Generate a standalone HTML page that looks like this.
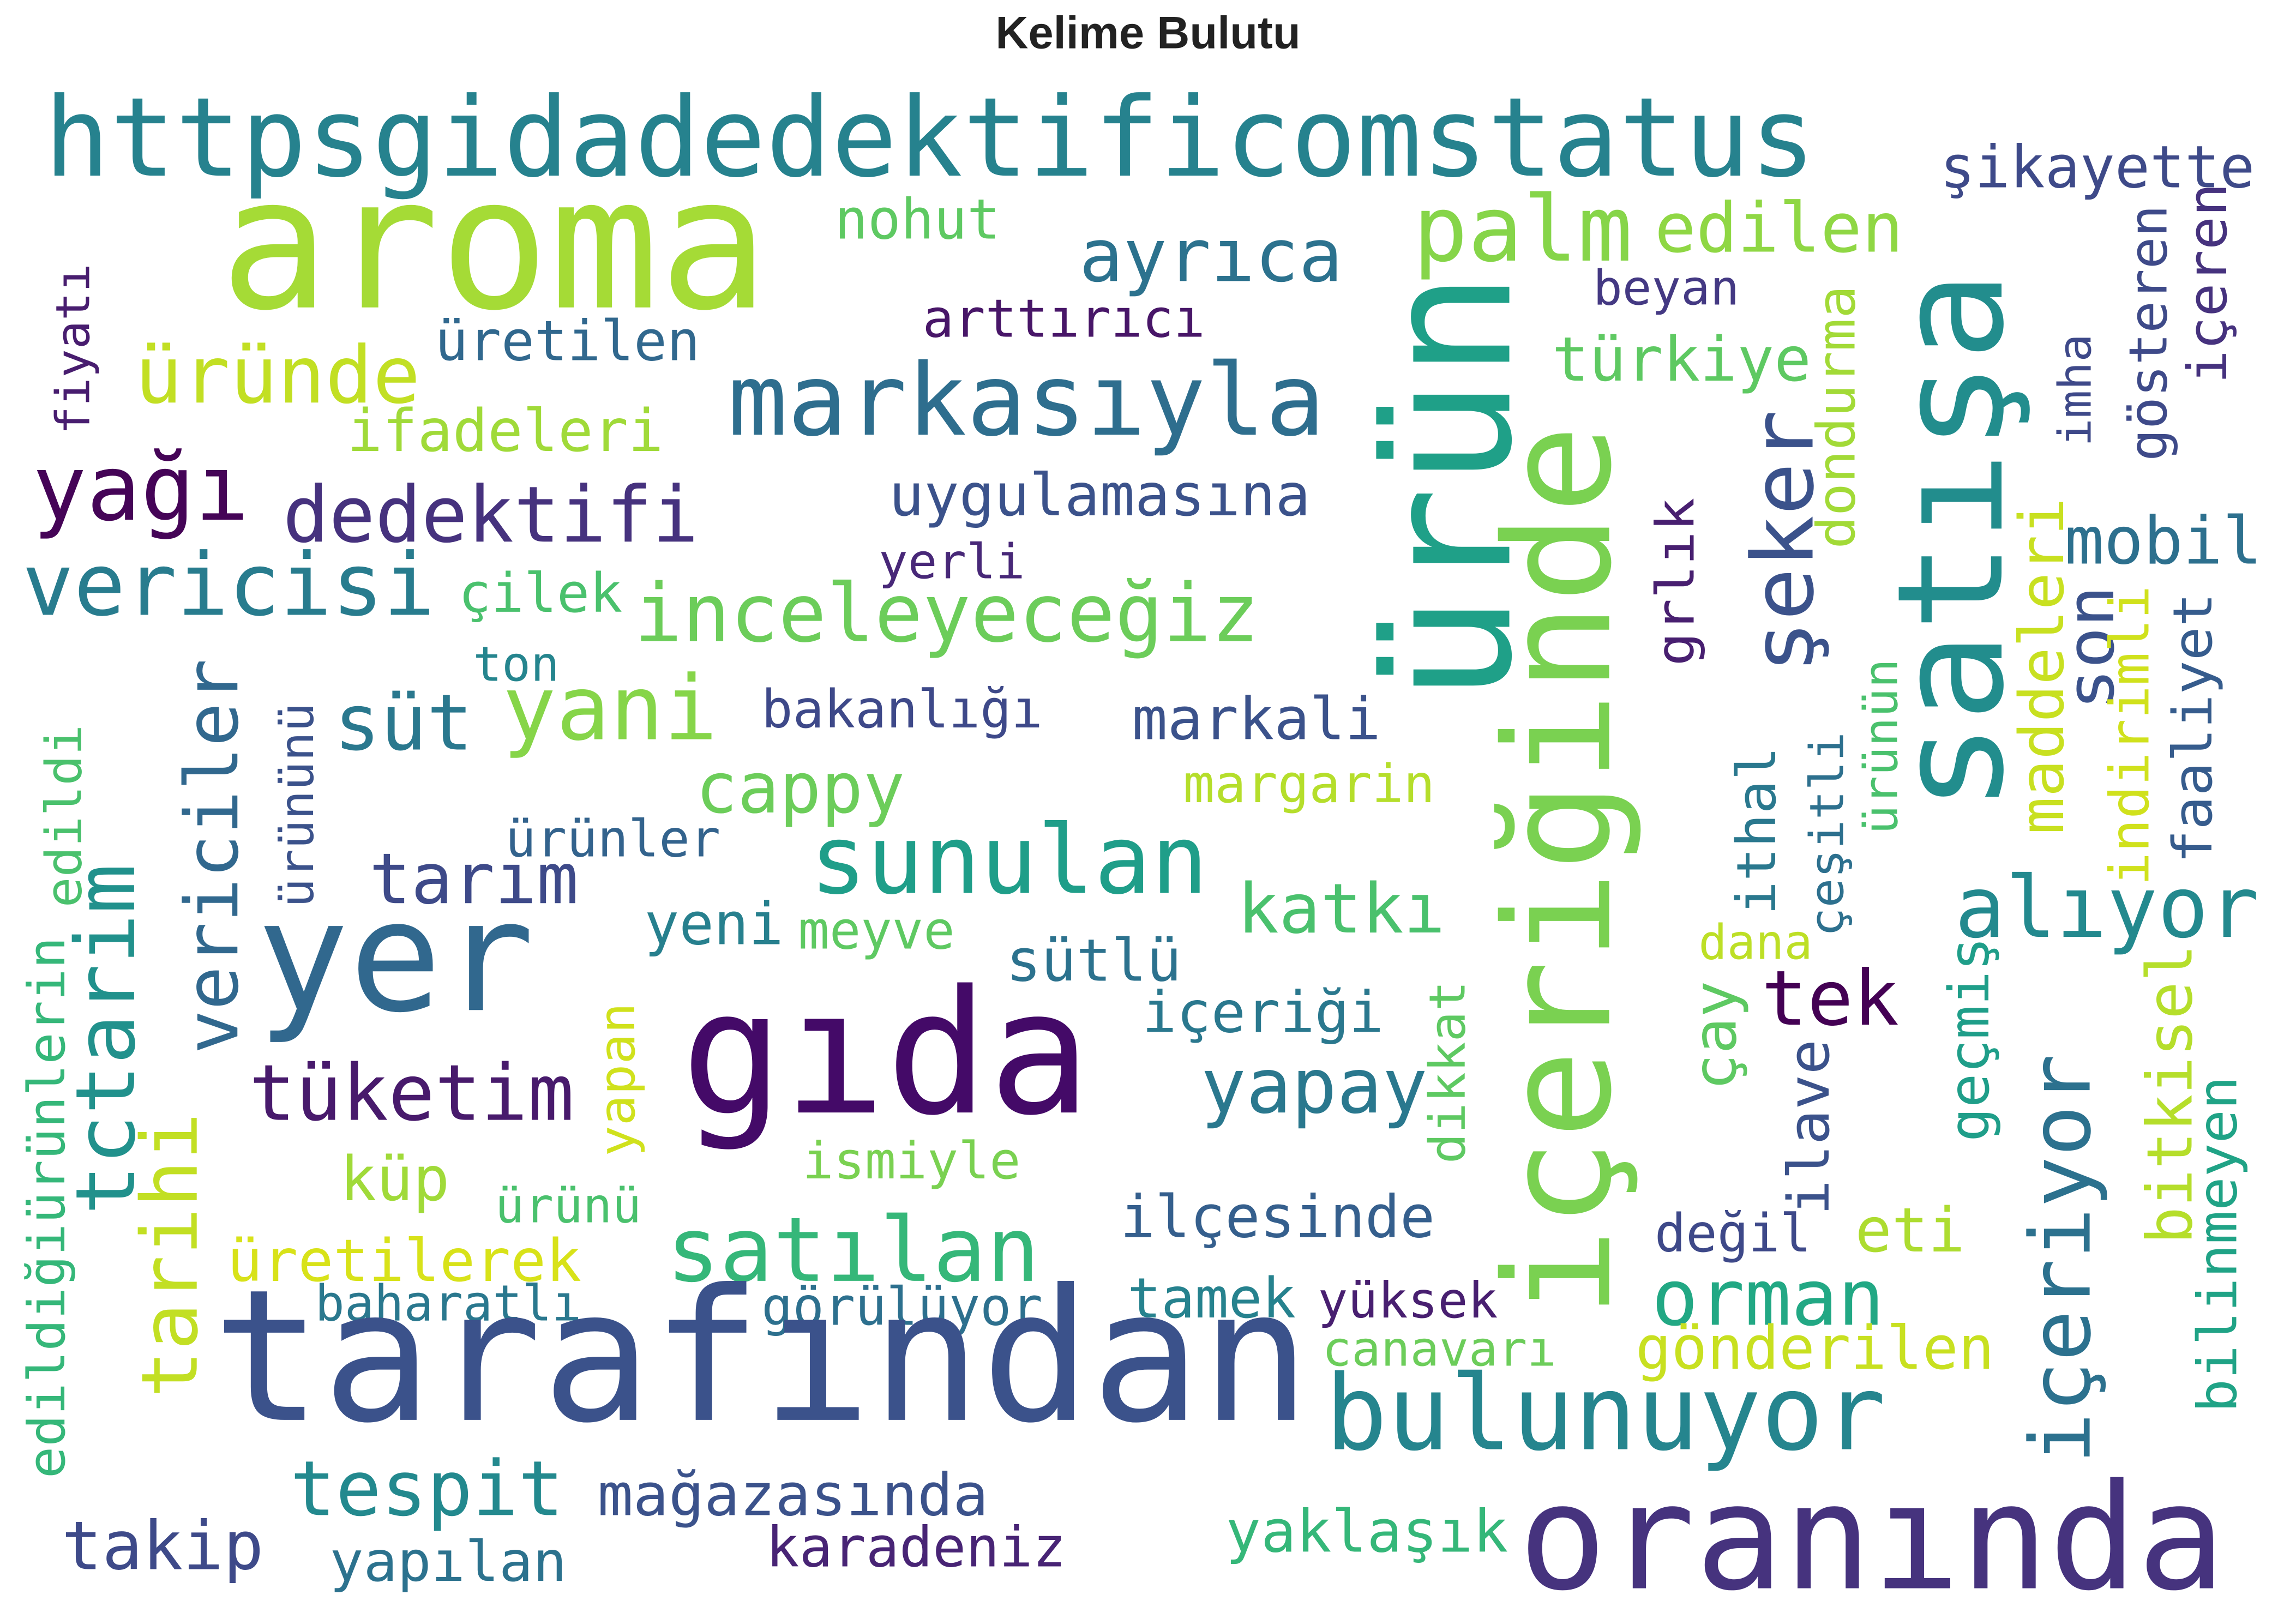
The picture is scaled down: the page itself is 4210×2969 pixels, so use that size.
<!DOCTYPE html>
<html><head><meta charset="utf-8"><title>Kelime Bulutu</title>
<style>
html,body{margin:0;padding:0;background:#fff;}
svg{display:block;}
text.w{font-family:"DejaVu Sans Mono","Liberation Mono",monospace;}
</style></head>
<body>
<svg id="cloud" width="4210" height="2969" viewBox="0 0 1568 1106" xmlns="http://www.w3.org/2000/svg">
<rect width="1568" height="1106" fill="#fff"/>
<text x="784" y="33" text-anchor="middle" font-family="Liberation Sans, sans-serif" font-weight="bold" font-size="31" fill="#222">Kelime Bulutu</text>
<g id="words"></g>
</svg>
<script>
// Horizontal words: text, left, right, baseline, fontSize, colour
const hWords=["httpsgidadedektificomstatus","aroma","palm","edilen","nohut","ayrıca","beyan","şikayette","arttırıcı","üretilen","üründe","markasıyla","türkiye","ifadeleri","yağı","dedektifi","uygulamasına","mobil","vericisi","yerli","çilek","inceleyeceğiz","ton","süt","yani","bakanlığı","markali","cappy","margarin","sunulan","ürünler","tarım","alıyor","katkı","yeni","meyve","dana","sütlü","yer","tek","içeriği","gıda","yapay","tüketim","ismiyle","küp","ürünü","ilçesinde","değil","eti","satılan","üretilerek","orman","tamek","yüksek","baharatlı","görülüyor","canavarı","tarafından","gönderilen","bulunuyor","tespit","mağazasında","yaklaşık","oranında","takip","karadeniz","yapılan"];
const hLeft=[30,150,965,1130,570,737,1088,1325,630,297,92,497,1060,237,22,193,607,1410,15,600,313,433,323,228,343,520,773,475,808,553,345,252,1335,845,440,545,1160,687,175,1203,780,465,820,170,548,232,338,765,1130,1267,455,155,1128,770,900,215,520,903,145,1117,905,198,408,837,1037,42,523,225];
const hRight=[1240,525,1115,1300,683,917,1188,1540,823,478,287,905,1237,453,170,477,895,1545,297,700,425,860,382,323,490,712,943,618,980,825,492,395,1543,987,535,652,1238,807,365,1297,945,745,975,392,697,307,438,980,1237,1342,710,397,1287,885,1023,397,712,1063,895,1362,1288,385,675,1030,1520,180,728,387];
const hBase=[120,210,178,172,163,192,208,128,230,246,275,297,260,308,355,370,352,385,420,395,418,438,465,512,505,497,505,555,548,610,585,617,640,637,645,648,655,670,690,700,705,760,760,765,805,820,835,845,855,855,875,875,905,900,900,902,905,933,970,935,990,1035,1035,1060,1085,1072,1070,1080];
const hSize=[75,125,62,47,38,50,33,40,36,38,54,68,42,40,62,53,40,45,59,33,37,55,33,53,61,36,40,48,36,65,35,48,58,47,40,36,33,40,105,52,39,117,52,53,35,42,33,40,36,42,61,40,53,38,34,34,36,33,125,41,71,52,40,40,100,46,38,38];
const hColor=["#26828e","#a5db36","#86d549","#8fd744","#5ec962","#2c728e","#443983","#3e4a89","#481668","#31688e","#c2df23","#2e6e8e","#5ec962","#a0da39","#450457","#46327e","#3b528b","#2d708e","#287c8e","#482878","#4ac16d","#6ccd5a","#25858e","#2a788e","#86d549","#3e4989","#3b528b","#6ccd5a","#b5de2b","#1f9e89","#33638d","#3e4a89","#23898e","#4ac16d","#27808e","#5ec962","#bddf26","#2c728e","#31688e","#440154","#2a788e","#440a68","#2a788e","#481a6c","#7ad151","#a0da39","#4ac16d","#355f8d","#3e4989","#addc30","#35b779","#d8e219","#22a884","#26828e","#481f70","#2a788e","#2d708e","#6ccd5a","#3b528b","#c8e020","#25858e","#23898e","#3b528b","#35b779","#46337e","#3e4a89","#482475","#2c728e"];

// Vertical words (read bottom to top): text, column left, bottom, top, fontSize, colour
const vWords=["ürün","içeriğinde","satışa","şeker","dondurma","grlık","son","maddeleri","imha","gösteren","içeren","fiyatı","indirimli","faaliyet","ürünün","çeşitli","ithal","bitkisel","geçmiş","bilinmeyen","içeriyor","ilave","çay","dikkat","vericiler","tctarim","tarihi","edildi","edildiğiürünlerin","ürününü","yapan"];
const vLeft=[942,1025,1293,1195,1240,1130,1410,1378,1405,1453,1493,37,1440,1483,1272,1235,1185,1465,1330,1500,1385,1220,1155,975,125,50,95,30,18,190,408];
const vBottom=[480,900,555,460,375,455,485,570,305,315,262,297,605,590,570,640,625,850,780,965,1000,830,745,795,720,830,955,620,1010,620,790];
const vTop=[185,290,185,280,195,340,400,340,228,140,125,180,400,405,450,500,510,645,640,735,720,710,670,670,450,590,760,495,640,480,685];
const vSize=[120,100,100,58,36,36,45,42,31,36,37,32,37,37,32,32,37,43,38,37,57,39,41,34,50,56,53,34,35,32,34];
const vColor=["#1fa088","#7ad151","#228d8d","#3b528b","#a2da37","#481f70","#3b528b","#c8e020","#3e4989","#3e4a89","#46327e","#481d6f","#d0e11c","#365c8d","#4ac16d","#2d708e","#2a788e","#b5de2b","#1f9e89","#20a386","#2c718e","#3b528b","#5ec962","#5ec962","#31688e","#21918c","#c2df23","#4ac16d","#35b779","#3b528b","#d0e11c"];

const NS="http://www.w3.org/2000/svg";
const g=document.getElementById('words');
for(let i=0;i<hWords.length;i++){
  const t=document.createElementNS(NS,'text');
  
  
  t.setAttribute('class','w');
  t.setAttribute('x',hLeft[i]);
  t.setAttribute('y',hBase[i]);
  t.setAttribute('font-size',hSize[i]);
  t.setAttribute('fill',hColor[i]);
  t.setAttribute('textLength',hRight[i]-hLeft[i]);
  t.setAttribute('lengthAdjust','spacingAndGlyphs');
  t.textContent=hWords[i];
  g.appendChild(t);
}
for(let i=0;i<vWords.length;i++){
  const t=document.createElementNS(NS,'text');
  
  
  t.setAttribute('class','w');
  const bx=vLeft[i]+0.74*vSize[i];
  t.setAttribute('transform','translate('+bx+','+vBottom[i]+') rotate(-90)');
  t.setAttribute('x',0);
  t.setAttribute('y',0);
  t.setAttribute('font-size',vSize[i]);
  t.setAttribute('fill',vColor[i]);
  t.setAttribute('textLength',vBottom[i]-vTop[i]);
  t.setAttribute('lengthAdjust','spacingAndGlyphs');
  t.textContent=vWords[i];
  g.appendChild(t);
}
</script>
</body></html>
